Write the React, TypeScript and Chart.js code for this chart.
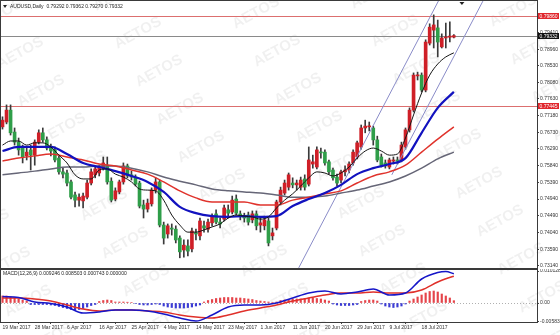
import React, { useEffect, useRef } from "react";
import { Chart, registerables } from "chart.js";

Chart.register(...registerables);

const FONT = "'Liberation Sans', Arial, sans-serif";

// ---------- price panel data (bar index 0 = 19 Mar 2017) ----------
const opens = [
  0.7688, 0.7701, 0.7733, 0.7674, 0.7647, 0.7631, 0.7610, 0.7626, 0.7612, 0.7647,
  0.7672, 0.7653, 0.7631, 0.7626, 0.7604, 0.7567, 0.7564, 0.7540, 0.7505, 0.7491,
  0.7489, 0.7499, 0.7537, 0.7559, 0.7564, 0.7577, 0.7585, 0.7542, 0.7494, 0.7513,
  0.7540, 0.7583, 0.7559, 0.7553, 0.7537, 0.7478, 0.7467, 0.7481, 0.7518, 0.7540,
  0.7424, 0.7400, 0.7416, 0.7413, 0.7389, 0.7357, 0.7368, 0.7360, 0.7403, 0.7395,
  0.7422, 0.7413, 0.7430, 0.7454, 0.7432, 0.7440, 0.7465, 0.7459, 0.7494, 0.7454,
  0.7448, 0.7451, 0.7438, 0.7454, 0.7424, 0.7422, 0.7435, 0.7395, 0.7416, 0.7486,
  0.7510, 0.7526, 0.7537, 0.7532, 0.7526, 0.7548, 0.7534, 0.7588, 0.7580, 0.7620,
  0.7620, 0.7594, 0.7572, 0.7553, 0.7545, 0.7567, 0.7572, 0.7591, 0.7607, 0.7634,
  0.7685, 0.7688, 0.7685, 0.7653, 0.7607, 0.7591, 0.7580, 0.7596, 0.7599, 0.7599,
  0.7634, 0.7680, 0.7733, 0.7825, 0.7827, 0.7787, 0.7913, 0.7948, 0.7954, 0.7903,
  0.7927, 0.7929, 0.79292,
];
const highs = [
  0.7715, 0.7747, 0.7747, 0.7685, 0.7658, 0.7639, 0.7631, 0.7639, 0.7653, 0.7680,
  0.7685, 0.7661, 0.7642, 0.7634, 0.7610, 0.7577, 0.7572, 0.7545, 0.7513, 0.7508,
  0.7510, 0.7545, 0.7575, 0.7583, 0.7585, 0.7607, 0.7607, 0.7551, 0.7524, 0.7545,
  0.7591, 0.7588, 0.7569, 0.7559, 0.7542, 0.7491, 0.7494, 0.7524, 0.7551, 0.7545,
  0.7432, 0.7427, 0.7427, 0.7422, 0.7395, 0.7384, 0.7384, 0.7416, 0.7413, 0.7443,
  0.7435, 0.7440, 0.7454, 0.7465, 0.7443, 0.7478, 0.7478, 0.7502, 0.7505, 0.7462,
  0.7456, 0.7459, 0.7462, 0.7462, 0.7443, 0.7448, 0.7443, 0.7416, 0.7491, 0.7526,
  0.7545, 0.7564, 0.7551, 0.7545, 0.7553, 0.7559, 0.7634, 0.7612, 0.7634, 0.7631,
  0.7626, 0.7599, 0.7577, 0.7561, 0.7572, 0.7583, 0.7594, 0.7626, 0.7650, 0.7693,
  0.7706, 0.7701, 0.7690, 0.7663, 0.7615, 0.7599, 0.7604, 0.7607, 0.7607, 0.7647,
  0.7685, 0.7739, 0.7833, 0.7835, 0.7833, 0.7922, 0.7965, 0.7989, 0.7975, 0.7938,
  0.7967, 0.7970, 0.79362,
];
const lows = [
  0.7682, 0.7696, 0.7666, 0.7639, 0.7612, 0.7591, 0.7599, 0.7572, 0.7585, 0.7642,
  0.7647, 0.7626, 0.7610, 0.7594, 0.7561, 0.7551, 0.7529, 0.7494, 0.7473, 0.7475,
  0.7470, 0.7494, 0.7532, 0.7551, 0.7556, 0.7572, 0.7534, 0.7486, 0.7489, 0.7508,
  0.7534, 0.7551, 0.7545, 0.7529, 0.7470, 0.7443, 0.7459, 0.7475, 0.7510, 0.7419,
  0.7373, 0.7389, 0.7397, 0.7376, 0.7336, 0.7338, 0.7341, 0.7352, 0.7384, 0.7384,
  0.7405, 0.7405, 0.7422, 0.7427, 0.7416, 0.7435, 0.7443, 0.7454, 0.7451, 0.7438,
  0.7432, 0.7424, 0.7430, 0.7411, 0.7405, 0.7411, 0.7368, 0.7384, 0.7411, 0.7478,
  0.7505, 0.7518, 0.7524, 0.7518, 0.7518, 0.7518, 0.7529, 0.7577, 0.7575, 0.7604,
  0.7585, 0.7561, 0.7545, 0.7529, 0.7537, 0.7556, 0.7564, 0.7585, 0.7602, 0.7628,
  0.7672, 0.7677, 0.7639, 0.7594, 0.7580, 0.7577, 0.7575, 0.7588, 0.7588, 0.7594,
  0.7628, 0.7674, 0.7728, 0.7814, 0.7782, 0.7782, 0.7908, 0.7900, 0.7876, 0.7900,
  0.7900, 0.7916, 0.79270,
];
const closes = [
  0.7706, 0.7733, 0.7672, 0.7647, 0.7626, 0.7607, 0.7620, 0.7612, 0.7647, 0.7672,
  0.7653, 0.7631, 0.7623, 0.7599, 0.7567, 0.7561, 0.7537, 0.7499, 0.7491, 0.7499,
  0.7502, 0.7537, 0.7567, 0.7575, 0.7580, 0.7591, 0.7540, 0.7491, 0.7516, 0.7540,
  0.7583, 0.7556, 0.7553, 0.7534, 0.7475, 0.7467, 0.7483, 0.7518, 0.7540, 0.7424,
  0.7389, 0.7422, 0.7413, 0.7384, 0.7352, 0.7370, 0.7354, 0.7408, 0.7400, 0.7435,
  0.7416, 0.7432, 0.7446, 0.7432, 0.7427, 0.7470, 0.7456, 0.7491, 0.7456, 0.7448,
  0.7443, 0.7432, 0.7454, 0.7422, 0.7430, 0.7438, 0.7376, 0.7403, 0.7486, 0.7518,
  0.7537, 0.7559, 0.7532, 0.7537, 0.7545, 0.7526, 0.7599, 0.7594, 0.7626, 0.7618,
  0.7591, 0.7567, 0.7551, 0.7537, 0.7567, 0.7572, 0.7588, 0.7620, 0.7645, 0.7685,
  0.7690, 0.7690, 0.7653, 0.7599, 0.7585, 0.7583, 0.7599, 0.7599, 0.7596, 0.7639,
  0.7680, 0.7733, 0.7827, 0.7827, 0.7787, 0.7916, 0.7956, 0.7962, 0.7916, 0.7927,
  0.7929, 0.7932, 0.79332,
];

// fast moving average (black), read every 2 bars
const fastMaBars = [
  0, 2, 4, 6, 8, 10, 12, 14, 16, 18, 20, 22, 24, 26, 28, 30, 32, 34, 36, 38,
  40, 42, 44, 46, 48, 50, 52, 54, 56, 58, 60, 62, 64, 66, 68, 70, 72, 74, 76, 78,
  80, 82, 84, 86, 88, 90, 92, 94, 96, 98, 100, 102, 104, 106, 108, 110, 112,
];
const fastMa = [
  0.7639, 0.7650, 0.7650, 0.7639, 0.7645, 0.7645, 0.7634, 0.7612, 0.7591, 0.7559,
  0.7548, 0.7548, 0.7572, 0.7575, 0.7561, 0.7553, 0.7540, 0.7521, 0.7518, 0.7516,
  0.7491, 0.7451, 0.7424, 0.7405, 0.7405, 0.7411, 0.7419, 0.7427, 0.7443, 0.7451,
  0.7448, 0.7446, 0.7440, 0.7446, 0.7470, 0.7491, 0.7508, 0.7529, 0.7551, 0.7567,
  0.7564, 0.7556, 0.7564, 0.7580, 0.7604, 0.7623, 0.7631, 0.7623, 0.7612, 0.7615,
  0.7658, 0.7720, 0.7779, 0.7827, 0.7857, 0.7876, 0.7887,
];
// slower averages, read every 4 bars
const slowMaBars = [
  0, 4, 8, 12, 16, 20, 24, 28, 32, 36, 40, 44, 48, 52, 56, 60, 64, 68, 72, 76,
  80, 84, 88, 92, 96, 100, 104, 108, 112,
];
const blueMa = [
  0.7623, 0.7634, 0.7634, 0.7634, 0.7615, 0.7591, 0.7580, 0.7569, 0.7556, 0.7540,
  0.7513, 0.7473, 0.7456, 0.7448, 0.7446, 0.7448, 0.7446, 0.7448, 0.7475, 0.7494,
  0.7510, 0.7532, 0.7561, 0.7577, 0.7588, 0.7604, 0.7672, 0.7739, 0.7782,
];
const redMa = [
  0.7596, 0.7604, 0.7610, 0.7615, 0.7607, 0.7599, 0.7588, 0.7583, 0.7572, 0.7561,
  0.7540, 0.7516, 0.7497, 0.7486, 0.7486, 0.7486, 0.7478, 0.7478, 0.7491, 0.7499,
  0.7508, 0.7516, 0.7537, 0.7556, 0.7567, 0.7585, 0.7620, 0.7655, 0.7688,
];
const grayMa = [
  0.7559, 0.7564, 0.7569, 0.7575, 0.7580, 0.7580, 0.7583, 0.7583, 0.7577, 0.7567,
  0.7553, 0.7542, 0.7532, 0.7521, 0.7516, 0.7513, 0.7510, 0.7505, 0.7499, 0.7499,
  0.7502, 0.7510, 0.7518, 0.7529, 0.7540, 0.7556, 0.7577, 0.7602, 0.7620,
];

// channel lines (bar, price end points)
const channelLowerBars = [73.5, 108.3];
const channelLowerPrices = [0.7309, 0.8029];
const channelUpperBars = [96.6, 119.2];
const channelUpperPrices = [0.7559, 0.8026];

// horizontal levels
const resistanceLevels = [0.7986, 0.77445];
const resistanceLabels = ["0.79860", "0.77445"];
const lastPrice = 0.79332;
const lastPriceLabel = "0.79332";

const priceTicks = [
  0.7941, 0.7896, 0.7853, 0.7808, 0.7763, 0.7718, 0.7673, 0.7629, 0.7584, 0.7539,
  0.7494, 0.7449, 0.7404, 0.7359, 0.7314,
];
const priceTickLabels = [
  "0.79410", "0.78960", "0.78530", "0.78080", "0.77630", "0.77180", "0.76730", "0.76290",
  "0.75840", "0.75390", "0.74940", "0.74490", "0.74040", "0.73590", "0.73140",
];

const titleText = "AUDUSD,Daily  0.79292 0.79362 0.79270 0.79332";

// ---------- MACD panel ----------
const macdBars = [
  0, 4, 8, 12, 16, 20, 24, 28, 32, 36, 40, 44, 48, 52, 56, 60, 64, 68, 72, 76,
  80, 84, 88, 92, 96, 100, 104, 108, 110, 112,
];
const macdLine = [
  0.00206, 0.00174, 0.00032, -0.00016, -0.00127, -0.00317, -0.00285, -0.00222, -0.00222, -0.00254,
  -0.00349, -0.00476, -0.00571, -0.0038, -0.00127, -0.00063, -0.00063, 0.0, 0.00159, 0.00317,
  0.0038, 0.00285, 0.00349, 0.00444, 0.00254, 0.00317, 0.00761, 0.00967, 0.01, 0.009246,
];
const signalLine = [
  0.00159, 0.00159, 0.00127, 0.00063, -0.00063, -0.0019, -0.00254, -0.00222, -0.00222, -0.00254,
  -0.00285, -0.0038, -0.00444, -0.00476, -0.0038, -0.00254, -0.00159, -0.00063, 0.00063, 0.00159,
  0.00254, 0.00317, 0.00317, 0.00349, 0.00317, 0.00317, 0.00412, 0.00666, 0.0077, 0.008503,
];
const macdHist = [
  0.00222, 0.00222, 0.0019, 0.00159, 0.00127, 0.00095, 0.00063, -0.00048, -0.00048, -0.00048,
  -0.00048, -0.00048, -0.00063, -0.00079, -0.00111, -0.00143, -0.00174, -0.00206, -0.00222, -0.00206,
  -0.00174, -0.00127, -0.00079, -0.00048, 0.00048, 0.00079, 0.00095, 0.00079, 0.00032, 0.00032,
  0.00032, 0.00025, 0.00016, -0.00016, -0.00048, -0.00063, -0.00063, -0.00048, -0.00032, -0.00048,
  -0.00095, -0.00127, -0.00143, -0.00159, -0.00159, -0.00159, -0.00143, -0.00127, -0.00095, -0.00063,
  0.00032, 0.00079, 0.00111, 0.00143, 0.00159, 0.00174, 0.00174, 0.00174, 0.00159, 0.00159,
  0.00143, 0.00127, 0.00111, 0.00079, 0.00063, 0.00048, 0.00032, 0.00016, 0.00032, 0.00079,
  0.00095, 0.00111, 0.00127, 0.00127, 0.00127, 0.00143, 0.00159, 0.00159, 0.00143, 0.00127,
  0.00095, 0.00063, -0.00032, -0.00063, -0.00079, -0.00079, -0.00079, -0.00063, -0.00048, 0.00048,
  0.00079, 0.00095, 0.00095, 0.00063, -0.00032, -0.00095, -0.00127, -0.00143, -0.00127, -0.00095,
  -0.00032, 0.00063, 0.00127, 0.0019, 0.00254, 0.00317, 0.00365, 0.0038, 0.00349, 0.00285,
  0.00222, 0.00159, 0.000743,
];
const macdTicks = [0.010128, 0, -0.00583];
const macdTickLabels = ["0.010128", "0.00", "-0.00583"];
const macdTitle = "MACD(12,26,9) 0.009246 0.008503 0.000743 0.000000";

const dateLabelBars = [0, 8, 16, 24, 32, 40, 48, 56, 64, 72, 80, 88, 96, 104];
const dateLabels = [
  "19 Mar 2017", "28 Mar 2017", "6 Apr 2017", "16 Apr 2017", "25 Apr 2017", "4 May 2017",
  "14 May 2017", "23 May 2017", "1 Jun 2017", "11 Jun 2017", "20 Jun 2017", "29 Jun 2017",
  "9 Jul 2017", "18 Jul 2017",
];

// ---------- layout constants ----------
const X_MIN = -0.372;
const X_MAX = 132.63;
const PRICE_MIN = 0.73086;
const PRICE_MAX = 0.80263;
const MACD_MIN = -0.00602;
const MACD_MAX = 0.01046;
const AXIS_W = 23;

const UP = "#cf1f27";
const DOWN = "#2f9e49";

function drawWatermark(ctx: CanvasRenderingContext2D, offsetY: number, h: number) {
  ctx.save();
  ctx.font = `bold 15px ${FONT}`;
  ctx.fillStyle = "rgba(0,0,0,0.06)";
  ctx.textAlign = "center";
  ctx.textBaseline = "middle";
  for (let a = -5; a <= 12; a++) {
    for (let b = -3; b <= 7; b++) {
      const x = 138 + a * 21 + b * 118;
      const y = 33 + a * 38 - b * 20 - offsetY;
      if (x < -40 || x > 600 || y < -30 || y > h + 30) continue;
      ctx.save();
      ctx.translate(x, y);
      ctx.rotate(-0.5);
      ctx.fillText("AETOS", 0, 0);
      ctx.restore();
    }
  }
  ctx.restore();
}

function frame(chart: any) {
  const { ctx, chartArea: a } = chart;
  ctx.save();
  ctx.strokeStyle = "#3a3a3a";
  ctx.lineWidth = 1;
  ctx.strokeRect(Math.round(a.left) - 0.5, Math.round(a.top) - 0.5, Math.round(a.right - a.left) + 1, Math.round(a.bottom - a.top) + 1);
  ctx.restore();
}

function priceBox(ctx: CanvasRenderingContext2D, y: number, x: number, label: string, fill: string) {
  ctx.save();
  ctx.fillStyle = fill;
  ctx.fillRect(x, Math.round(y) - 3, 21, 6);
  ctx.fillStyle = "#fff";
  ctx.font = `5px ${FONT}`;
  ctx.textAlign = "left";
  ctx.textBaseline = "middle";
  ctx.fillText(label, x + 1.5, Math.round(y) + 0.2);
  ctx.restore();
}

function mainConfig(): any {
  const deco = {
    id: "decoMain",
    beforeDraw(chart: any) {
      drawWatermark(chart.ctx, 0, chart.height);
    },
    beforeDatasetsDraw(chart: any) {
      const { ctx, chartArea: a, scales } = chart;
      ctx.save();
      ctx.lineWidth = 1;
      resistanceLevels.forEach((v) => {
        const y = Math.round(scales.y.getPixelForValue(v)) + 0.5;
        ctx.strokeStyle = "#dc6f6f";
        ctx.beginPath();
        ctx.moveTo(a.left, y);
        ctx.lineTo(a.right, y);
        ctx.stroke();
      });
      const yp = Math.round(scales.y.getPixelForValue(lastPrice)) + 0.5;
      ctx.strokeStyle = "#8a8a8a";
      ctx.beginPath();
      ctx.moveTo(a.left, yp);
      ctx.lineTo(a.right, yp);
      ctx.stroke();
      ctx.restore();
    },
    afterDraw(chart: any) {
      const { ctx, chartArea: a, scales } = chart;
      frame(chart);
      resistanceLevels.forEach((v, k) => {
        priceBox(ctx, scales.y.getPixelForValue(v), a.right + 1, resistanceLabels[k], "#e0262c");
      });
      priceBox(ctx, scales.y.getPixelForValue(lastPrice), a.right + 1, lastPriceLabel, "#111");
      ctx.save();
      ctx.fillStyle = "#222";
      ctx.beginPath();
      ctx.moveTo(3, 5);
      ctx.lineTo(7, 5);
      ctx.lineTo(5, 8);
      ctx.closePath();
      ctx.fill();
      ctx.font = `5px ${FONT}`;
      ctx.textBaseline = "middle";
      ctx.fillText(titleText, 10, 6.5);
      const sx = scales.x.getPixelForValue(114);
      ctx.beginPath();
      ctx.moveTo(sx - 2.5, a.top + 1);
      ctx.lineTo(sx + 2.5, a.top + 1);
      ctx.lineTo(sx, a.top + 4);
      ctx.closePath();
      ctx.fill();
      ctx.restore();
    },
  };

  const line = (bars: number[], vals: number[], color: string, width: number) => ({
    type: "line",
    data: bars.map((b, k) => ({ x: b, y: vals[k] })),
    borderColor: color,
    borderWidth: width,
    pointRadius: 0,
    cubicInterpolationMode: "monotone",
    order: 0,
  });

  return {
    type: "bar",
    data: {
      datasets: [
        line(fastMaBars, fastMa, "#151515", 1),
        line(slowMaBars, blueMa, "#1212bf", 2.2),
        line(slowMaBars, redMa, "#e0332c", 1.5),
        line(slowMaBars, grayMa, "#666677", 1.5),
        {
          type: "line",
          data: channelLowerBars.map((b, k) => ({ x: b, y: channelLowerPrices[k] })),
          borderColor: "#8a8cc8",
          borderWidth: 1,
          pointRadius: 0,
          order: 0,
        },
        {
          type: "line",
          data: channelUpperBars.map((b, k) => ({ x: b, y: channelUpperPrices[k] })),
          borderColor: "#8a8cc8",
          borderWidth: 1,
          pointRadius: 0,
          order: 0,
        },
        {
          type: "bar",
          data: lows.map((l, i) => ({ x: i, y: [l, highs[i]] })),
          backgroundColor: "#3a3a3a",
          barThickness: 1,
          grouped: false,
          order: 3,
        },
        {
          type: "bar",
          data: opens.map((o, i) => ({ x: i, y: [o, closes[i]] })),
          backgroundColor: opens.map((o, i) => (closes[i] >= o ? UP : DOWN)),
          barThickness: 3,
          minBarLength: 1,
          grouped: false,
          order: 2,
        },
      ],
    },
    options: {
      animation: false,
      responsive: false,
      maintainAspectRatio: false,
      layout: { padding: { left: 1, top: 1, right: 0, bottom: 1 } },
      plugins: { legend: { display: false }, tooltip: { enabled: false } },
      scales: {
        x: { type: "linear", min: X_MIN, max: X_MAX, display: false, offset: false },
        y: {
          type: "linear",
          position: "right",
          min: PRICE_MIN,
          max: PRICE_MAX,
          afterBuildTicks: (s: any) => {
            s.ticks = priceTicks.map((v) => ({ value: v }));
          },
          afterFit: (s: any) => {
            s.width = AXIS_W;
            s.paddingTop = 0;
            s.paddingBottom = 0;
          },
          ticks: {
            font: { size: 5, family: FONT },
            color: "#333",
            padding: 1,
            callback: (_v: any, idx: number) => priceTickLabels[idx],
          },
          grid: { drawOnChartArea: false, tickLength: 2, color: "#444" },
          border: { display: false },
        },
      },
    },
    plugins: [deco],
  };
}

function macdConfig(): any {
  const deco = {
    id: "decoMacd",
    beforeDraw(chart: any) {
      drawWatermark(chart.ctx, 269, chart.height);
    },
    beforeDatasetsDraw(chart: any) {
      const { ctx, chartArea: a, scales } = chart;
      const y = Math.round(scales.y.getPixelForValue(0)) + 0.5;
      ctx.save();
      ctx.strokeStyle = "#b0b0b0";
      ctx.setLineDash([1, 2]);
      ctx.beginPath();
      ctx.moveTo(a.left, y);
      ctx.lineTo(a.right, y);
      ctx.stroke();
      ctx.restore();
    },
    afterDraw(chart: any) {
      const { ctx } = chart;
      frame(chart);
      ctx.save();
      ctx.fillStyle = "#222";
      ctx.font = `5px ${FONT}`;
      ctx.textBaseline = "middle";
      ctx.fillText(macdTitle, 3, 5);
      ctx.restore();
    },
  };

  return {
    type: "bar",
    data: {
      datasets: [
        {
          type: "line",
          data: macdBars.map((b, k) => ({ x: b, y: macdLine[k] })),
          borderColor: "#1616c8",
          borderWidth: 1.5,
          pointRadius: 0,
          cubicInterpolationMode: "monotone",
          order: 0,
        },
        {
          type: "line",
          data: macdBars.map((b, k) => ({ x: b, y: signalLine[k] })),
          borderColor: "#e0302a",
          borderWidth: 1.5,
          pointRadius: 0,
          cubicInterpolationMode: "monotone",
          order: 0,
        },
        {
          type: "bar",
          data: macdHist.map((v, i) => ({ x: i, y: v })),
          backgroundColor: macdHist.map((v) => (v >= 0 ? "rgba(224,35,42,0.85)" : "rgba(26,26,204,0.85)")),
          barThickness: 1.5,
          grouped: false,
          order: 1,
        },
      ],
    },
    options: {
      animation: false,
      responsive: false,
      maintainAspectRatio: false,
      layout: { padding: { left: 1, top: 1, right: 0, bottom: 0 } },
      plugins: { legend: { display: false }, tooltip: { enabled: false } },
      scales: {
        x: {
          type: "linear",
          min: X_MIN,
          max: X_MAX,
          position: "bottom",
          offset: false,
          afterBuildTicks: (s: any) => {
            s.ticks = dateLabelBars.map((v) => ({ value: v }));
          },
          afterFit: (s: any) => {
            s.height = 13;
            s.paddingLeft = 0;
            s.paddingRight = 0;
          },
          ticks: {
            font: { size: 5, family: FONT },
            color: "#333",
            padding: 1,
            align: "start",
            maxRotation: 0,
            autoSkip: false,
            callback: (_v: any, idx: number) => dateLabels[idx],
          },
          grid: { drawOnChartArea: false, tickLength: 2, color: "#444" },
          border: { display: false },
        },
        y: {
          type: "linear",
          position: "right",
          min: MACD_MIN,
          max: MACD_MAX,
          afterBuildTicks: (s: any) => {
            s.ticks = macdTicks.map((v) => ({ value: v }));
          },
          afterFit: (s: any) => {
            s.width = AXIS_W;
            s.paddingTop = 0;
            s.paddingBottom = 0;
          },
          ticks: {
            font: { size: 5, family: FONT },
            color: "#333",
            padding: 1,
            callback: (_v: any, idx: number) => macdTickLabels[idx],
          },
          grid: { drawOnChartArea: false, tickLength: 2, color: "#444" },
          border: { display: false },
        },
      },
    },
    plugins: [deco],
  };
}

export default function App() {
  const mainRef = useRef<HTMLCanvasElement>(null);
  const macdRef = useRef<HTMLCanvasElement>(null);
  useEffect(() => {
    const main = new Chart(mainRef.current as HTMLCanvasElement, mainConfig());
    const macd = new Chart(macdRef.current as HTMLCanvasElement, macdConfig());
    return () => {
      main.destroy();
      macd.destroy();
    };
  }, []);
  return (
    <div style={{ position: "absolute", left: 0, top: 0, width: 560, height: 335, background: "#fff" }}>
      <canvas
        ref={mainRef}
        width={560}
        height={269}
        style={{ position: "absolute", left: 0, top: 0, width: 560, height: 269 }}
      />
      <canvas
        ref={macdRef}
        width={560}
        height={66}
        style={{ position: "absolute", left: 0, top: 269, width: 560, height: 66 }}
      />
    </div>
  );
}
